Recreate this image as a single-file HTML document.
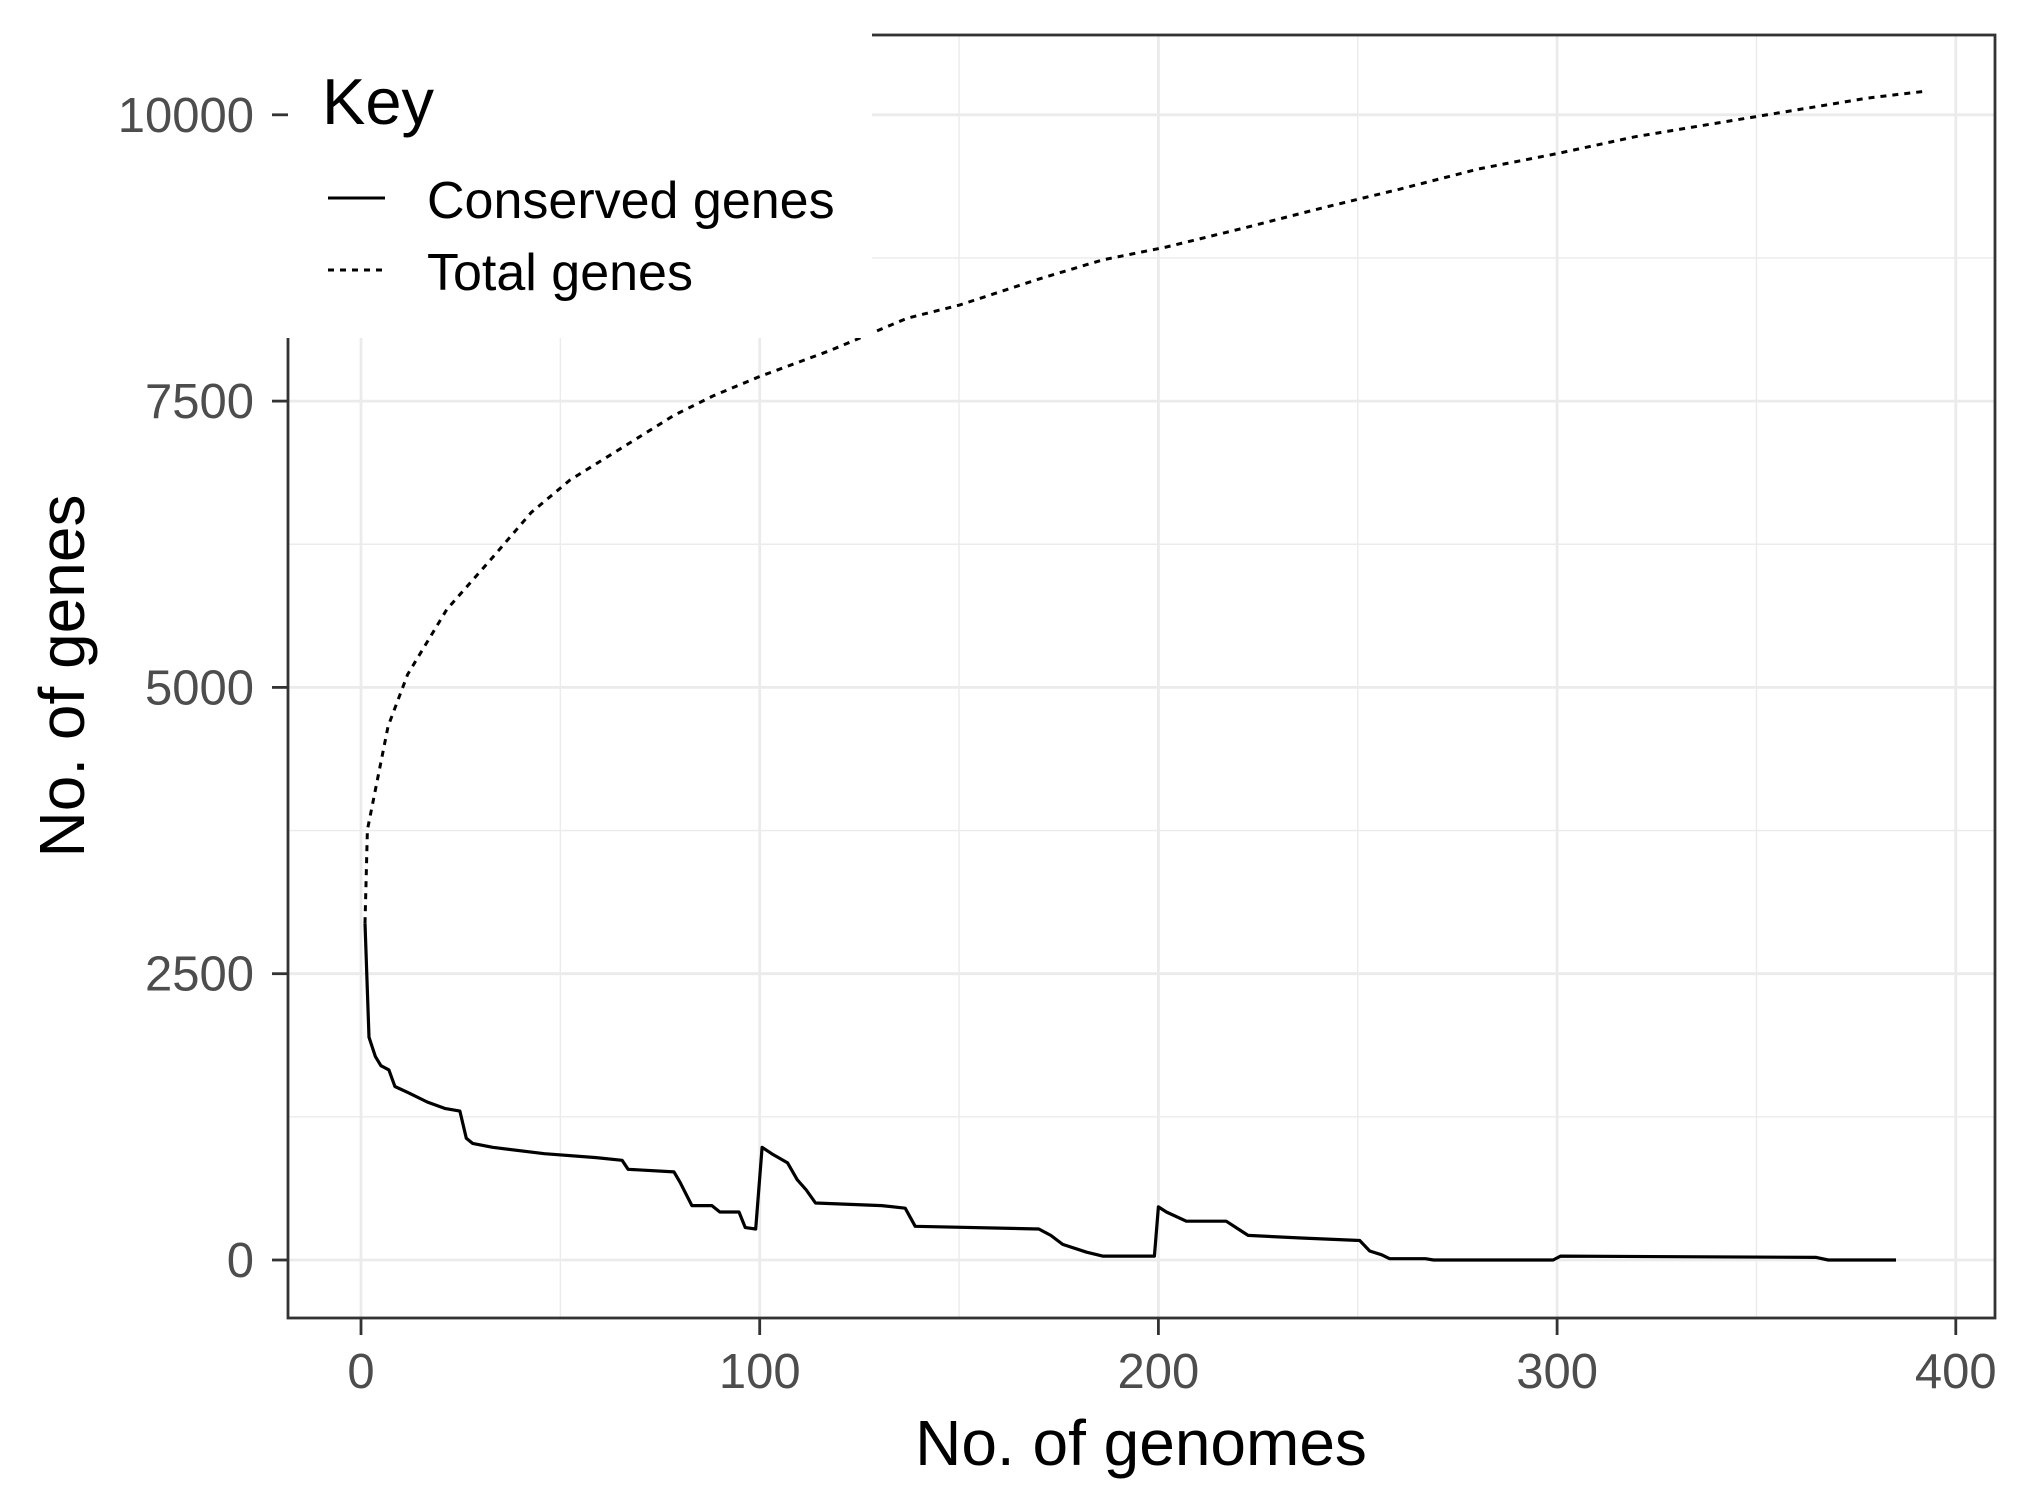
<!DOCTYPE html>
<html><head><meta charset="utf-8"><style>
html,body{margin:0;padding:0;background:#fff;}
svg{display:block;font-family:"Liberation Sans",Arial,sans-serif;}
</style></head><body>
<svg id="chart" width="2031" height="1512" viewBox="0 0 2031 1512" xmlns="http://www.w3.org/2000/svg">
<rect x="0" y="0" width="2031" height="1512" fill="#fff"/>
<g id="grid"></g>
<g id="series"></g>
<rect x="284" y="0" width="588" height="338" fill="#fff"/>
<g id="axes"></g>
<g>
<text x="322" y="124" font-size="65" fill="#000">Key</text>
<line x1="328" y1="198" x2="385" y2="198" stroke="#000" stroke-width="3"/>
<text x="427" y="218" font-size="52" fill="#000">Conserved genes</text>
<line x1="328" y1="270" x2="385" y2="270" stroke="#000" stroke-width="3" stroke-dasharray="6 6"/>
<text x="427" y="290" font-size="52" fill="#000">Total genes</text>
</g>
<text x="1141" y="1465" font-size="64" text-anchor="middle" fill="#000">No. of genomes</text>
<text transform="translate(84,676) rotate(-90)" font-size="64" text-anchor="middle" fill="#000">No. of genes</text>
</svg>
<script>
const xTicks = [0,100,200,300,400];
const xMinor = [50,150,250,350];
const yTicks = [0,2500,5000,7500,10000];
const yMinor = [1250,3750,6250,8750];
const totalX = [1,1.6,6.8,11.7,21.5,32.9,42.7,52.4,65.5,78.5,88.3,100,117.6,137,150,169.7,186,202,222,241,261,280,300,319.5,339,358.6,378,392];
const totalY = [2941,3756,4661,5113,5679,6131,6527,6810,7093,7376,7545,7715,7941,8224,8337,8563,8733,8846,9016,9186,9355,9525,9661,9808,9921,10034,10147,10204];
const consX = [1,2,3.6,5,7,8.5,12,16.6,21,24.8,26.4,28,33,46,59,65.5,67,78.5,80,83,88,90,94.8,96.4,99,100.6,103,107,109.4,111.7,114,130.6,136.5,139,170,173,176,182,186,199,200,202,207,217,221,222.5,235.8,250.5,253,256,258,267,269,299,300.9,365,368,385];
const consY = [2941,1945,1776,1697,1660,1515,1459,1380,1324,1300,1063,1018,984,928,894,871,792,769,679,475,475,419,419,283,271,984,928,848,701,611,498,475,452,294,271,215,136,68,34,34,464,419,339,339,249,215,192,170,79,45,11,11,0,0,34,23,0,0];

const X0=361, XS=398.7/100, Y0=1260, YS=286.3/2500;
const L=288, R=1995, T=35, B=1318;
function sx(v){return X0+v*XS;}
function sy(v){return Y0-v*YS;}
const NS="http://www.w3.org/2000/svg";
function mk(tag,attrs,parent){const e=document.createElementNS(NS,tag);for(const k in attrs)e.setAttribute(k,attrs[k]);parent.appendChild(e);return e;}
const grid=document.getElementById('grid'), axes=document.getElementById('axes'), series=document.getElementById('series');
yMinor.forEach(v=>{const e=mk('line',{x1:L,x2:R,y1:sy(v),y2:sy(v),stroke:'#EBEBEB','stroke-width':1.4},grid);

});
xMinor.forEach(v=>{const e=mk('line',{x1:sx(v),x2:sx(v),y1:T,y2:B,stroke:'#EBEBEB','stroke-width':1.4},grid);

});
yTicks.forEach(v=>{const e=mk('line',{x1:L,x2:R,y1:sy(v),y2:sy(v),stroke:'#EBEBEB','stroke-width':2.8},grid);


const t=mk('line',{x1:272,x2:L,y1:sy(v),y2:sy(v),stroke:'#333','stroke-width':2.8},axes);


const lb=mk('text',{x:254,y:sy(v)+17,'font-size':49,'text-anchor':'end',fill:'#4D4D4D'},axes);
lb.textContent=v;

});
xTicks.forEach(v=>{const e=mk('line',{x1:sx(v),x2:sx(v),y1:T,y2:B,stroke:'#EBEBEB','stroke-width':2.8},grid);


const t=mk('line',{x1:sx(v),x2:sx(v),y1:B,y2:B+17,stroke:'#333','stroke-width':2.8},axes);


const lb=mk('text',{x:sx(v),y:1388,'font-size':49,'text-anchor':'middle',fill:'#4D4D4D'},axes);
lb.textContent=v;

});
const frame=mk('rect',{x:L,y:T,width:R-L,height:B-T,fill:'none',stroke:'#333','stroke-width':2.8},series);


const tp=totalX.map((x,i)=>sx(x).toFixed(1)+','+sy(totalY[i]).toFixed(1)).join(' ');
const tl=mk('polyline',{points:tp,fill:'none',stroke:'#000','stroke-width':3,'stroke-dasharray':'6 6'},series);


const cp=consX.map((x,i)=>sx(x).toFixed(1)+','+sy(consY[i]).toFixed(1)).join(' ');
const cl=mk('polyline',{points:cp,fill:'none',stroke:'#000','stroke-width':3.2,'stroke-linejoin':'round'},series);


</script>
</body></html>
